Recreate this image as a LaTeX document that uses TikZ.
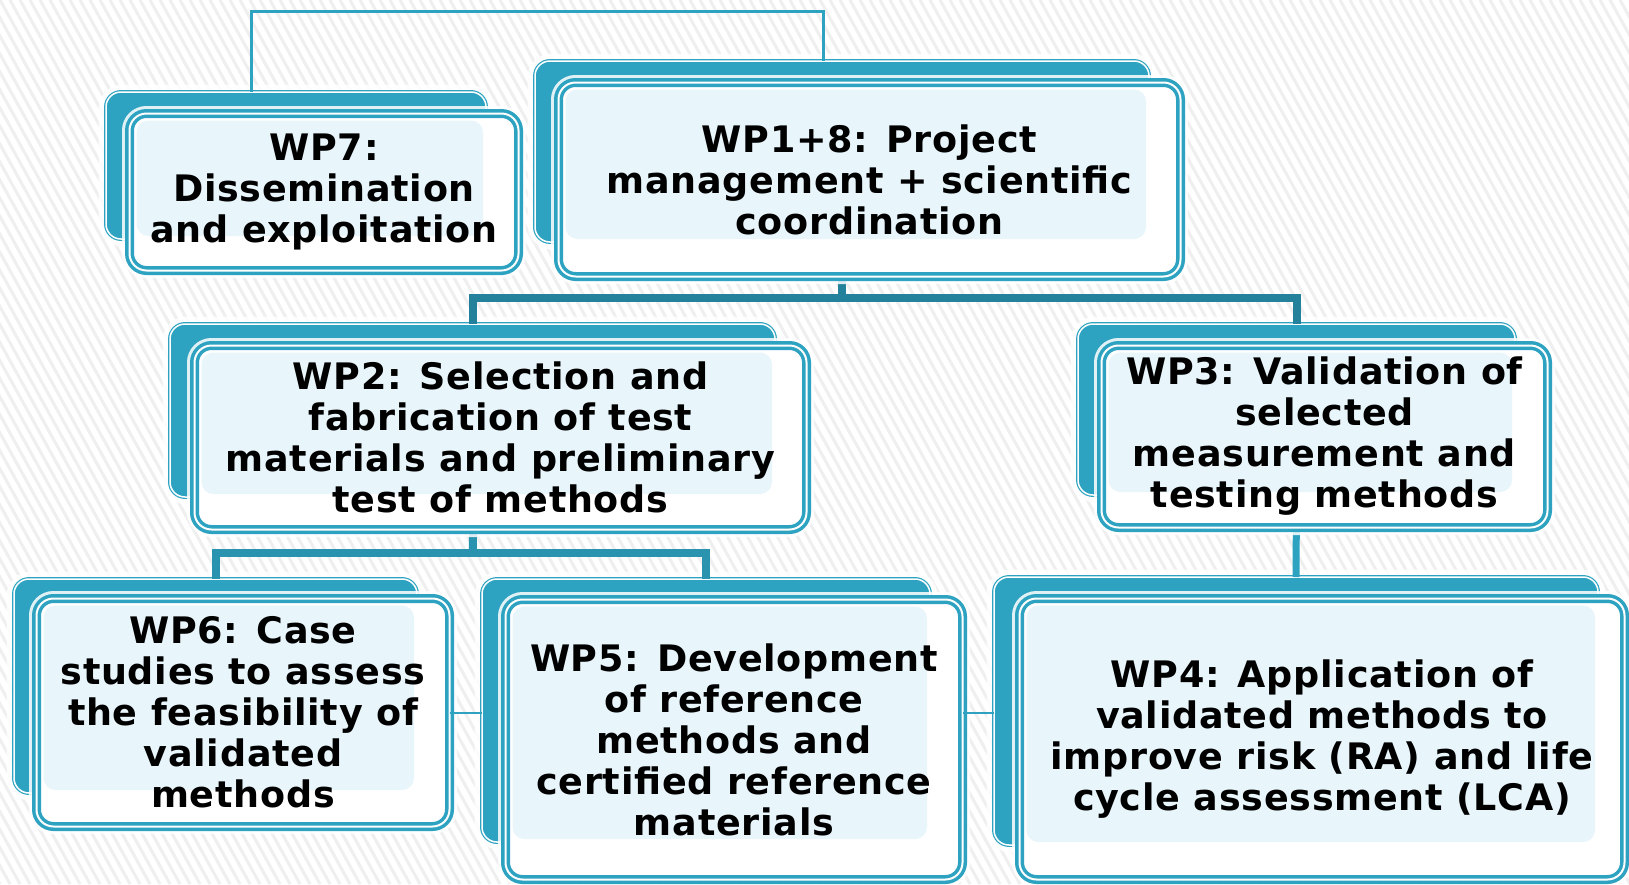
\documentclass[tikz,border=0pt]{standalone}
\usepackage{fontspec}
\setmainfont{DejaVu Sans}[LetterSpace=2]
\definecolor{wpteal}{HTML}{2EA3C1}
\definecolor{wpdark}{HTML}{23819B}
\definecolor{wpmid}{HTML}{2A93AF}
\definecolor{wptint}{HTML}{E8F5FA}
\definecolor{wpstripe}{HTML}{EFEFEF}
% back tab of a work package, given by its outer edges
\newcommand\wpBack[5]{%
  \draw[halo] ({#2+2},{#3+2}) rectangle ({#4-2},{#5-2});
  \node[backtab, minimum width={(#4-#2-4)*1pt}, minimum height={(#5-#3-4)*1pt}]
    (#1) at ({#2+2},{#3+2}) {};}
% front box of a work package; #6 is its back tab, #7 the label
\newcommand\wpFront[7]{%
  \draw[halo] ({#2+4.5},{#3+4.5}) rectangle ({#4-4.5},{#5-4.5});
  \node[frontbox=#6, minimum width={(#4-#2-9)*1pt}, minimum height={(#5-#3-9)*1pt}]
    (#1) at ({#2+4.5},{#3+4.5}) {#7};}
\begin{document}
\begin{tikzpicture}[x=1pt,y=-1pt,
  halo/.style={draw=white, line width=15pt, rounded corners=17pt, opacity=0.85},
  backtab/.style={draw=wpteal, fill=wpteal, double=white, double distance=1.5pt,
    line width=1.2pt, rounded corners=15pt, inner sep=0pt, outer sep=0pt,
    anchor=north west},
  frontbox/.style={draw=wpteal, fill=white, double=white, double distance=2pt,
    line width=3.5pt, rounded corners=17pt, inner sep=0pt, outer sep=0pt,
    anchor=north west, align=center,
    font=\bfseries\fontsize{36.5}{41}\selectfont,
    path picture={\fill[wptint, rounded corners=12pt]
      ([shift={(7pt,-7pt)}]path picture bounding box.north west) rectangle
      ([shift={(-3pt,3pt)}]#1.south east);}},
  link/.style={draw=wpteal, line width=3pt},
  bus/.style={draw=wpdark, line width=8pt},
  bus2/.style={draw=wpmid, line width=8pt},
  stem/.style={draw=wpteal, line width=7pt}]

% striped backdrop
\useasboundingbox (0,0) rectangle (1629,884);
\fill[white] (0,0) rectangle (1629,884);
\begin{scope}
  \clip (0,0) rectangle (1629,884);
  \foreach \a in {-500,-490,...,1630}
    \draw[wpstripe, line width=3pt] (\a,0) -- ({\a+490},884);
\end{scope}

% connector anchors
\coordinate (top) at (500,11);
\coordinate (j1) at (842,298);
\coordinate (j2) at (473,553);

% work packages: back tabs first, then the front boxes
\wpBack{wp7b}{104}{90}{488}{241}
\wpBack{wp1b}{533}{59}{1151}{244}
\wpBack{wp2b}{168}{322}{777}{499}
\wpBack{wp3b}{1076}{322}{1517}{497}
\wpBack{wp6b}{12}{577}{419}{795}
\wpBack{wp5b}{480}{577}{932}{844}
\wpBack{wp4b}{992}{575}{1600}{847}

% connectors
\draw[link] ([xshift=145pt]wp7b.north west) |- (top) -| ([xshift=288pt]wp1b.north west);
\draw[bus] (wp1b.south -| j1) -- (j1);
\draw[bus] (wp2b.north) |- (j1) -| (wp3b.north);
\draw[bus2] (wp2b.south) -- (j2);
\draw[bus2] (wp6b.north) |- (j2) -| (wp5b.north);
\draw[stem] (wp3b.south) -- (wp4b.north);

\wpFront{wp7}{125}{109}{523}{275}{wp7b}{WP7:\\Dissemination\\and exploitation}
\wpFront{wp1}{554}{78}{1185}{281}{wp1b}{WP1+8: Project\\management + scientific\\coordination}
\wpFront{wp2}{190}{341}{811}{534}{wp2b}{WP2: Selection and\\fabrication of test\\materials and preliminary\\test of methods}
\wpFront{wp3}{1097}{341}{1552}{532}{wp3b}{WP3: Validation of\\selected\\measurement and\\testing methods}
\wpFront{wp6}{32}{594}{454}{831}{wp6b}{WP6: Case\\studies to assess\\the feasibility of\\validated\\methods}
\wpFront{wp5}{501}{595}{967}{884}{wp5b}{WP5: Development\\of reference\\methods and\\certified reference\\materials}
\wpFront{wp4}{1015}{594}{1629}{884}{wp4b}{WP4: Application of\\validated methods to\\improve risk (RA) and life\\cycle assessment (LCA)}

% side links between the bottom row
\draw[link, line width=2pt] (wp6.east) -- (wp5b.west |- wp6.east);
\draw[link, line width=2pt] (wp5.east |- wp6.east) -- (wp4b.west |- wp6.east);
\end{tikzpicture}
\end{document}
